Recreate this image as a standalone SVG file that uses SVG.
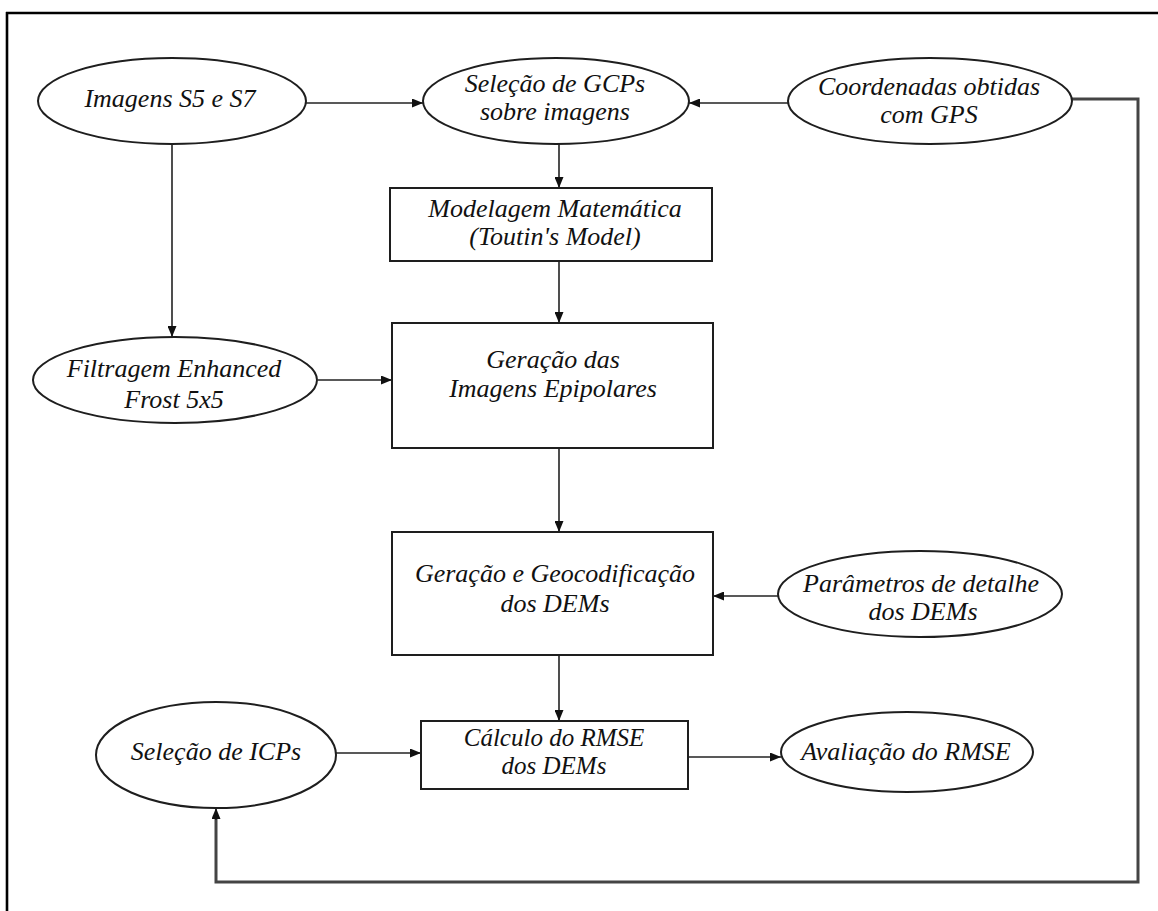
<svg xmlns="http://www.w3.org/2000/svg" width="1158" height="911" viewBox="0 0 1158 911">
  <style>
    .shape { fill: #ffffff; stroke: #1e1e1e; stroke-width: 2; }
    .label { font-family: "Liberation Serif", "Times New Roman", serif; font-style: italic; font-size: 26px; fill: #111; text-anchor: middle; }
    .small { font-size: 25px; }
    .link { fill: none; stroke: #222; stroke-width: 1.6; }
    .loop { fill: none; stroke: #444; stroke-width: 3; }
    .frame { stroke: #000; stroke-width: 2.6; }
  </style>
  <defs>
    <marker id="arrow" markerUnits="userSpaceOnUse" markerWidth="11" markerHeight="9" refX="11" refY="4.5" orient="auto">
      <path d="M0,0 L11,4.5 L0,9 z" fill="#111"/>
    </marker>
  </defs>

  <rect x="0" y="0" width="1158" height="911" fill="#ffffff"/>

  <!-- page frame (top and left edges) -->
  <line class="frame" x1="6" y1="13" x2="1158" y2="13"/>
  <line class="frame" x1="7" y1="12" x2="7" y2="911"/>

  <!-- connectors -->
  <g id="connectors">
    <line class="link" x1="306" y1="103" x2="423" y2="103" marker-end="url(#arrow)"/>
    <line class="link" x1="788" y1="103" x2="689" y2="103" marker-end="url(#arrow)"/>
    <line class="link" x1="559" y1="144" x2="559" y2="188" marker-end="url(#arrow)"/>
    <line class="link" x1="559" y1="261" x2="559" y2="323" marker-end="url(#arrow)"/>
    <line class="link" x1="172" y1="144" x2="172" y2="337" marker-end="url(#arrow)"/>
    <line class="link" x1="318" y1="380" x2="392" y2="380" marker-end="url(#arrow)"/>
    <line class="link" x1="559" y1="448" x2="559" y2="532" marker-end="url(#arrow)"/>
    <line class="link" x1="778" y1="596" x2="713" y2="596" marker-end="url(#arrow)"/>
    <line class="link" x1="559" y1="655" x2="559" y2="721" marker-end="url(#arrow)"/>
    <line class="link" x1="336" y1="753" x2="421" y2="753" marker-end="url(#arrow)"/>
    <line class="link" x1="688" y1="757" x2="781" y2="757" marker-end="url(#arrow)"/>
    <polyline class="loop" points="1072,99 1138,99 1138,882 216,882 216,818"/>
    <line class="link" x1="216" y1="820" x2="216" y2="808" marker-end="url(#arrow)"/>
  </g>

  <g id="imagens">
    <ellipse class="shape" cx="172" cy="101" rx="134" ry="43"/>
    <text class="label" x="170" y="107">Imagens S5 e S7</text>
  </g>

  <g id="selecao-gcps">
    <ellipse class="shape" cx="556" cy="101" rx="133" ry="43"/>
    <text class="label" x="555" y="92">Seleção de GCPs</text>
    <text class="label" x="555" y="120">sobre imagens</text>
  </g>

  <g id="coordenadas-gps">
    <ellipse class="shape" cx="930" cy="101" rx="142" ry="43"/>
    <text class="label" x="929" y="95">Coordenadas obtidas</text>
    <text class="label" x="929" y="123">com GPS</text>
  </g>

  <g id="modelagem">
    <rect class="shape" x="390" y="188" width="322" height="73"/>
    <text class="label" x="555" y="217">Modelagem Matemática</text>
    <text class="label" x="555" y="245">(Toutin's Model)</text>
  </g>

  <g id="filtragem">
    <ellipse class="shape" cx="175" cy="380" rx="142" ry="43"/>
    <text class="label" x="174" y="377">Filtragem Enhanced</text>
    <text class="label" x="174" y="408">Frost 5x5</text>
  </g>

  <g id="epipolares">
    <rect class="shape" x="392" y="323" width="321" height="125"/>
    <text class="label" x="553" y="368">Geração das</text>
    <text class="label" x="553" y="397">Imagens Epipolares</text>
  </g>

  <g id="geocodificacao">
    <rect class="shape" x="392" y="532" width="321" height="123"/>
    <text class="label" x="555" y="582">Geração e Geocodificação</text>
    <text class="label" x="555" y="612">dos DEMs</text>
  </g>

  <g id="parametros">
    <ellipse class="shape" cx="920" cy="594" rx="142" ry="43"/>
    <text class="label" x="921" y="592">Parâmetros de detalhe</text>
    <text class="label" x="923" y="620">dos DEMs</text>
  </g>

  <g id="calculo-rmse">
    <rect class="shape" x="421" y="721" width="267" height="68"/>
    <text class="label small" x="554" y="746">Cálculo do RMSE</text>
    <text class="label small" x="554" y="774">dos DEMs</text>
  </g>

  <g id="selecao-icps">
    <ellipse class="shape" cx="216" cy="755" rx="120" ry="53"/>
    <text class="label" x="216" y="760">Seleção de ICPs</text>
  </g>

  <g id="avaliacao">
    <ellipse class="shape" cx="907" cy="752" rx="126" ry="40"/>
    <text class="label" x="906" y="760">Avaliação do RMSE</text>
  </g>
</svg>
